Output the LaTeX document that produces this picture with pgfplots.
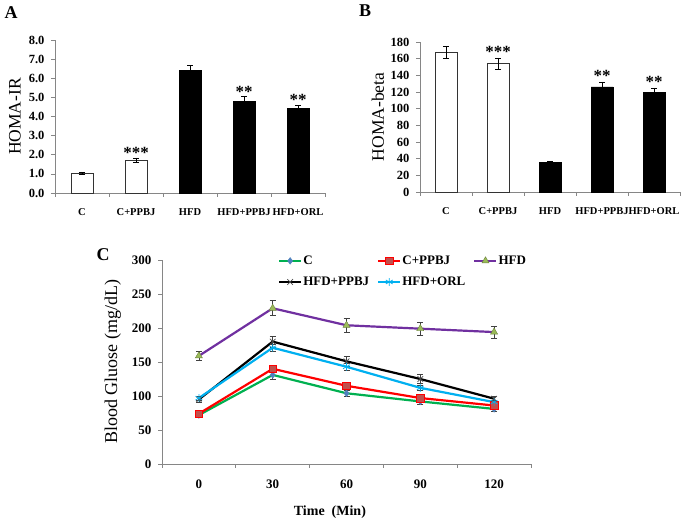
\documentclass[border=0pt]{standalone}
\usepackage{fontspec}
\setmainfont{Liberation Serif}
\usepackage{pgfplots}
\pgfplotsset{compat=1.18}
\definecolor{axgray}{RGB}{134,134,134}
\definecolor{cgreen}{RGB}{0,176,80}
\definecolor{cblue}{RGB}{79,129,189}
\definecolor{cred}{RGB}{255,0,0}
\definecolor{cbrick}{RGB}{192,80,77}
\definecolor{cpurple}{RGB}{112,48,160}
\definecolor{colive}{RGB}{155,187,89}
\definecolor{ccyan}{RGB}{0,176,240}
\newcommand{\fs}[1]{\fontsize{#1}{#1}\selectfont}
\tikzset{sstar/.style={font=\bfseries\fs{17}, anchor=base}}
\begin{document}
\begin{tikzpicture}
\useasboundingbox (0pt,0pt) rectangle (687pt,521pt);
\pgfplotsset{
  base/.style={scale only axis, axis x line*=bottom, axis y line*=left,
    axis line style={axgray,line width=0.7pt}, tick style={axgray,line width=0.7pt},
    major tick length=4pt, tick align=outside, xtick pos=left, ytick pos=left,
    /pgf/number format/assume math mode=true, clip=false,
    xticklabel style={yshift=-8pt}, yticklabel style={xshift=-3pt}},
  bars/.style={base, xmin=-0.5, xmax=4.5, xtick={-0.5,0.5,1.5,2.5,3.5,4.5},
    x tick label as interval, xticklabels={C,C+PPBJ,HFD,HFD+PPBJ,HFD+ORL},
    xticklabel style={font=\bfseries\fs{10.5}},
    yticklabel style={font=\bfseries\fs{12.5}},
    ylabel style={font=\fs{17.5}}},
  ebars/.style={error bars/y dir=both, error bars/y explicit,
    error bars/error bar style={#1, line width=0.6pt},
    error bars/error mark options={rotate=90, mark size=3pt, #1, line width=0.6pt}},
  wbar/.style={ybar, bar width=22pt, bar shift=0pt, fill=white, draw=black!80, line width=0.8pt, ebars=black},
  bbar/.style={ybar, bar width=22pt, bar shift=0pt, fill=black, draw=black, line width=0.8pt, ebars=black},
  ser/.style={line width=2.2pt, mark size=3.3pt, ebars=black!75}
}
% Panel A
\node[font=\bfseries\fs{18}] at (11pt,508pt) {A};
\begin{axis}[bars, at={(55pt,328pt)}, anchor=south west, width=270pt, height=153pt,
  ymin=0, ymax=8, ytick={0,1,...,8},
  yticklabel style={/pgf/number format/fixed, /pgf/number format/fixed zerofill, /pgf/number format/precision=1},
  ylabel={HOMA-IR}, ylabel style={at={(axis description cs:-0.148,0.5)}, anchor=center}]
\addplot[wbar] coordinates {(0,1.05) +- (0,0.05) (1,1.73) +- (0,0.1)};
\addplot[bbar] coordinates {(2,6.39) +- (0,0.3) (3,4.80) +- (0,0.23) (4,4.40) +- (0,0.2)};
\node[sstar] at (axis cs:1,1.80) {***};
\node[sstar] at (axis cs:3,5.00) {**};
\node[sstar] at (axis cs:4,4.57) {**};
\end{axis}
% Panel B
\node[font=\bfseries\fs{18}] at (365pt,510pt) {B};
\begin{axis}[bars, at={(420pt,329pt)}, anchor=south west, width=260pt, height=150pt,
  ymin=0, ymax=180, ytick={0,20,...,180},
  ylabel={HOMA-beta}, ylabel style={at={(axis description cs:-0.162,0.5)}, anchor=center}]
\addplot[wbar] coordinates {(0,168) +- (0,7) (1,154) +- (0,7)};
\addplot[bbar] coordinates {(2,35) +- (0,2) (3,126) +- (0,6) (4,119) +- (0,6)};
\node[sstar] at (axis cs:1,161) {***};
\node[sstar] at (axis cs:3,132) {**};
\node[sstar] at (axis cs:4,125) {**};
\end{axis}
% Panel C
\node[font=\bfseries\fs{18}] at (103pt,266pt) {C};
\begin{axis}[base, at={(162pt,57pt)}, anchor=south west, width=369pt, height=204pt,
  xmin=-0.5, xmax=4.5, ymin=0, ymax=300, ytick={0,50,...,300},
  xtick={-0.5,0.5,1.5,2.5,3.5,4.5}, x tick label as interval, xticklabels={0,30,60,90,120},
  ticklabel style={font=\bfseries\fs{13}},
  ylabel={Blood Gluose (mg/dL)}, ylabel style={font=\fs{18}, at={(axis description cs:-0.133,0.5)}, anchor=center},
  xlabel={Time\ \ (Min)}, xlabel style={font=\bfseries\fs{14}, at={(axis description cs:0.455,-0.235)}, anchor=center},
  legend columns=3,
  legend style={draw=none, fill=none, inner sep=0pt, font=\bfseries\fs{13}, at={(axis description cs:0.314,0.944)}, anchor=west,
    row sep=9pt, nodes={inner sep=1pt}, /tikz/every even column/.append style={column sep=7pt}},
  legend cell align=left,
  legend image code/.code={\draw[mark repeat=2,mark phase=2,#1] plot coordinates {(0pt,0pt) (11pt,0pt) (22pt,0pt)};}]
\addplot[ser, cgreen, mark=diamond*, mark options={solid, fill=cblue, draw=cblue, line width=0.5pt}]
  coordinates {(0,72) +- (0,3) (1,131) +- (0,6) (2,104) +- (0,4) (3,92) +- (0,4) (4,81) +- (0,3)};
\addplot[ser, cred, mark=square*, mark options={solid, fill=cbrick, draw=cred, line width=0.5pt, scale=1.15}]
  coordinates {(0,74) +- (0,3) (1,140) +- (0,5) (2,115) +- (0,4) (3,97) +- (0,4) (4,86) +- (0,4)};
\addplot[ser, cpurple, mark=triangle*, mark options={solid, fill=colive, draw=colive!70!black, line width=0.4pt, scale=1.25}]
  coordinates {(0,159) +- (0,7) (1,229) +- (0,11) (2,204) +- (0,10) (3,199) +- (0,10) (4,194) +- (0,9)};
\addplot[ser, black, mark=x, mark options={solid, draw=black!70, line width=0.7pt, scale=1.2}]
  coordinates {(0,95) +- (0,4) (1,180) +- (0,8) (2,151) +- (0,7) (3,125) +- (0,7) (4,96) +- (0,4)};
\addplot[ser, ccyan, mark=asterisk, mark options={solid, draw=ccyan, line width=0.7pt, scale=1.2}]
  coordinates {(0,97) +- (0,3) (1,171) +- (0,5) (2,143) +- (0,5) (3,112) +- (0,4) (4,91) +- (0,3)};
\legend{C,C+PPBJ,HFD,HFD+PPBJ,HFD+ORL}
\end{axis}
\end{tikzpicture}
\end{document}
